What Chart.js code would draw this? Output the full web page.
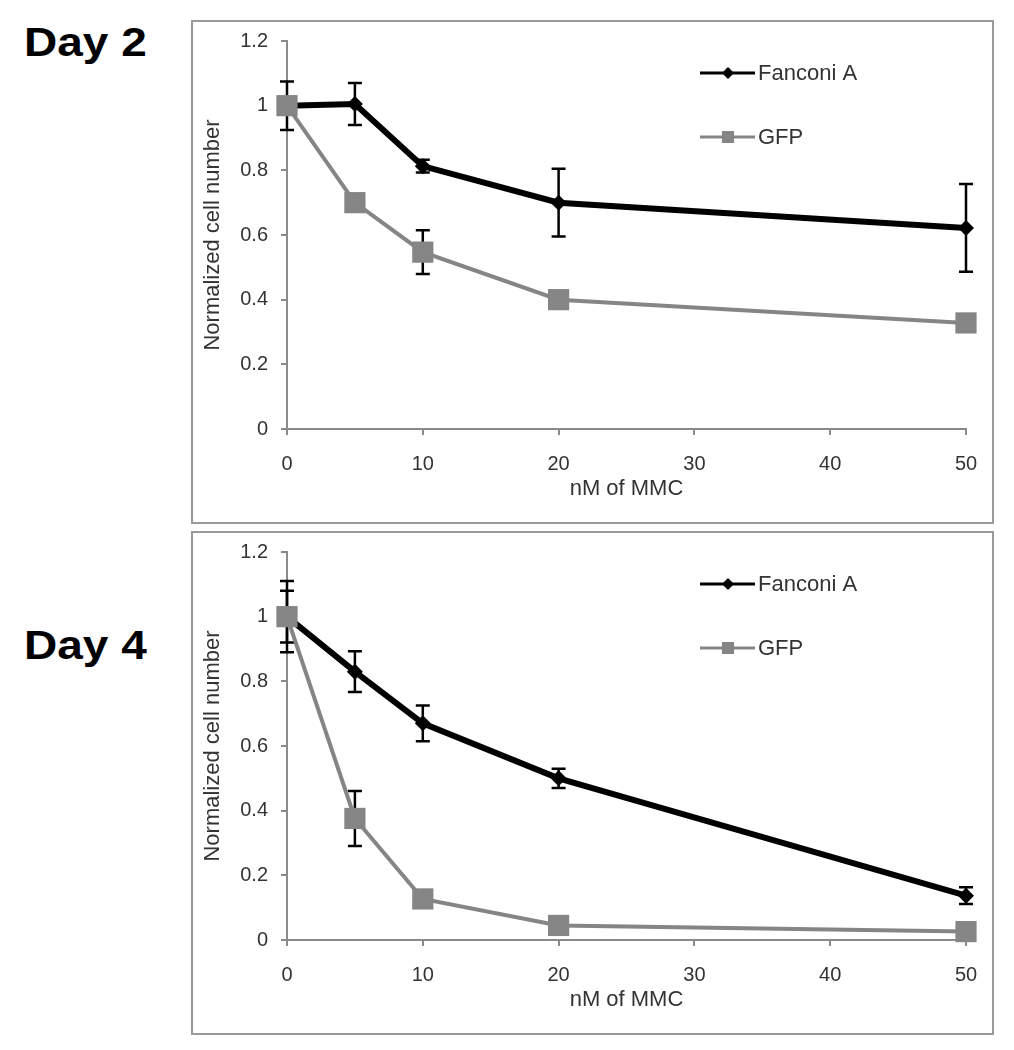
<!DOCTYPE html>
<html><head><meta charset="utf-8">
<script src="https://cdn.jsdelivr.net/npm/chart.js@4.4.1/dist/chart.umd.min.js"></script>
<style>
html,body{margin:0;padding:0;background:#fff;}
body{width:1014px;height:1050px;position:relative;overflow:hidden;font-family:"Liberation Sans",Arial,sans-serif;}
.day{position:absolute;left:24px;font-weight:bold;font-size:40px;line-height:40px;color:#000;transform:scaleX(1.15);transform-origin:0 0;white-space:nowrap;}
.box{position:absolute;left:191px;width:803px;height:504px;box-sizing:border-box;border:2px solid #9a9a9a;background:#fff;}
.box canvas{display:block;}
</style></head><body>
<div class="day" id="t1" style="top:22px"></div>
<div class="day" id="t2" style="top:625px"></div>
<div class="box" style="top:20px"><canvas id="c1" width="799" height="500"></canvas></div>
<div class="box" style="top:531px"><canvas id="c2" width="799" height="500"></canvas></div>
<script>
const panelTitles = ['Day 2', 'Day 4'];
const seriesNames = ['Fanconi A', 'GFP'];
const doses = [0, 5, 10, 20, 50];
const day2Fanconi = [1.0, 1.005, 0.813, 0.70, 0.622];
const day2FanconiErr = [0.075, 0.065, 0.02, 0.105, 0.136];
const day2Gfp = [1.0, 0.70, 0.547, 0.40, 0.328];
const day2GfpErr = [0.02, 0.02, 0.068, 0.015, 0.015];
const day4Fanconi = [1.0, 0.83, 0.67, 0.50, 0.137];
const day4FanconiErr = [0.11, 0.063, 0.055, 0.03, 0.026];
const day4Gfp = [1.0, 0.376, 0.127, 0.045, 0.026];
const day4GfpErr = [0.08, 0.085, 0.02, 0.015, 0.01];
const xTickValues = [0, 10, 20, 30, 40, 50];
const xTickLabels = ['0', '10', '20', '30', '40', '50'];
const yTickValues = [0, 0.2, 0.4, 0.6, 0.8, 1, 1.2];
const yTickLabels = ['0', '0.2', '0.4', '0.6', '0.8', '1', '1.2'];
const xTitle = 'nM of MMC';
const yTitle = 'Normalized cell number';

document.getElementById('t1').textContent = panelTitles[0];
document.getElementById('t2').textContent = panelTitles[1];

const FONT = '"Liberation Sans", Arial, sans-serif';
const TEXT = '#333333';
const AXIS = '#8a8a8a';
const GREY = '#858585';

function diamond(ctx, x, y, r) {
  ctx.beginPath();
  ctx.moveTo(x, y - r); ctx.lineTo(x + r, y); ctx.lineTo(x, y + r); ctx.lineTo(x - r, y);
  ctx.closePath(); ctx.fill();
}
function square(ctx, x, y, h) {
  ctx.fillRect(x - h, y - h, 2 * h, 2 * h);
}

const errorBarPlugin = {
  id: 'errorBars',
  beforeDatasetsDraw(chart) {
    const ctx = chart.ctx, xs = chart.scales.x, ys = chart.scales.y;
    ctx.save();
    ctx.strokeStyle = '#000';
    ctx.lineWidth = 2.5;
    chart.data.datasets.forEach(ds => {
      if (!ds.errors) return;
      ds.data.forEach((p, j) => {
        const e = ds.errors[j];
        if (!e) return;
        const x = xs.getPixelForValue(p.x);
        const yt = ys.getPixelForValue(p.y + e);
        const yb = ys.getPixelForValue(p.y - e);
        ctx.beginPath();
        ctx.moveTo(x, yt); ctx.lineTo(x, yb);
        ctx.moveTo(x - 7, yt); ctx.lineTo(x + 7, yt);
        ctx.moveTo(x - 7, yb); ctx.lineTo(x + 7, yb);
        ctx.stroke();
      });
    });
    ctx.restore();
  }
};

const legendPlugin = {
  id: 'innerLegend',
  afterDraw(chart) {
    const ctx = chart.ctx, a = chart.chartArea;
    const offs = [32, 96];
    ctx.save();
    chart.data.datasets.forEach((ds, i) => {
      const y = a.top + offs[i];
      const x0 = a.left + 413;
      ctx.strokeStyle = ds.borderColor;
      ctx.fillStyle = ds.borderColor;
      ctx.lineWidth = 3;
      ctx.beginPath(); ctx.moveTo(x0, y); ctx.lineTo(x0 + 55, y); ctx.stroke();
      if (ds.pointStyle === 'rectRot') diamond(ctx, x0 + 28, y, 6);
      else square(ctx, x0 + 28, y, 6);
      ctx.fillStyle = TEXT;
      ctx.font = '22px ' + FONT;
      ctx.textBaseline = 'middle';
      ctx.textAlign = 'left';
      ctx.fillText(ds.label, x0 + 58, y + 1);
    });
    ctx.restore();
  }
};

function pts(vals) { return doses.map((d, i) => ({ x: d, y: vals[i] })); }

function makeChart(id, fan, fanErr, gfp, gfpErr) {
  return new Chart(document.getElementById(id), {
    type: 'scatter',
    data: {
      datasets: [
        { label: seriesNames[0], data: pts(fan), errors: fanErr, showLine: true,
          borderColor: '#000', backgroundColor: '#000', borderWidth: 6,
          pointStyle: 'rectRot', pointRadius: 8, pointBorderWidth: 0, order: 2, clip: false },
        { label: seriesNames[1], data: pts(gfp), errors: gfpErr, showLine: true,
          borderColor: GREY, backgroundColor: GREY, borderWidth: 4,
          pointStyle: 'rect', pointRadius: 15, pointBorderWidth: 0, order: 1, clip: false }
      ]
    },
    options: {
      responsive: false, animation: false, devicePixelRatio: 1,
      layout: { padding: { left: 0, right: 26, top: 19, bottom: 0 } },
      plugins: { legend: { display: false }, tooltip: { enabled: false } },
      scales: {
        x: {
          type: 'linear', min: 0, max: 50,
          afterBuildTicks: s => { s.ticks = xTickValues.map(v => ({ value: v })); },
          afterFit: s => { s.height = 93; s.paddingLeft = 0; s.paddingRight = 0; },
          ticks: { callback: (v, i) => xTickLabels[i], font: { family: FONT, size: 20 }, color: TEXT, padding: 17, maxRotation: 0 },
          grid: { drawOnChartArea: false, drawTicks: true, tickLength: 6, color: AXIS, lineWidth: 2 },
          border: { display: true, color: AXIS, width: 2 },
          title: { display: true, text: xTitle, font: { family: FONT, size: 22 }, color: TEXT, padding: { top: 0, bottom: 20 } }
        },
        y: {
          type: 'linear', min: 0, max: 1.2,
          afterBuildTicks: s => { s.ticks = yTickValues.map(v => ({ value: v })); },
          afterFit: s => { s.width = 94; s.paddingTop = 0; s.paddingBottom = 0; },
          ticks: { callback: (v, i) => yTickLabels[i], font: { family: FONT, size: 20 }, color: TEXT, padding: 13 },
          grid: { drawOnChartArea: false, drawTicks: true, tickLength: 6, color: AXIS, lineWidth: 2 },
          border: { display: true, color: AXIS, width: 2 },
          title: { display: true, text: yTitle, font: { family: FONT, size: 22 }, color: TEXT, padding: { top: 7, bottom: 0 } }
        }
      }
    },
    plugins: [errorBarPlugin, legendPlugin]
  });
}

makeChart('c1', day2Fanconi, day2FanconiErr, day2Gfp, day2GfpErr);
makeChart('c2', day4Fanconi, day4FanconiErr, day4Gfp, day4GfpErr);
</script>
</body></html>
